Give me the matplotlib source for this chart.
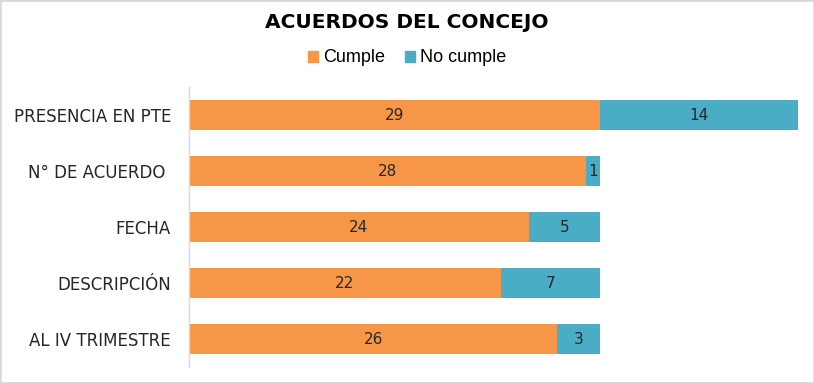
import matplotlib
matplotlib.use("Agg")
import matplotlib.pyplot as plt
from matplotlib.patches import Rectangle, Patch

categories = ["PRESENCIA EN PTE", "N° DE ACUERDO ", "FECHA", "DESCRIPCIÓN", "AL IV TRIMESTRE"]
cumple = [29, 28, 24, 22, 26]
no_cumple = [14, 1, 5, 7, 3]

COLOR_CUMPLE = "#F79646"
COLOR_NO = "#4BACC6"

W, H, DPI = 814, 383, 100
fig = plt.figure(figsize=(W / DPI, H / DPI), dpi=DPI)
fig.patch.set_facecolor("white")

ax = fig.add_axes([189 / W, (H - 367) / H, 609 / W, 280 / H])
ypos = list(range(len(categories)))

b1 = ax.barh(ypos, cumple, height=0.52, color=COLOR_CUMPLE)
b2 = ax.barh(ypos, no_cumple, left=cumple, height=0.52, color=COLOR_NO)

for bars in (b1, b2):
    ax.bar_label(bars, label_type="center", fontsize=11, color="#262626")

ax.set_xlim(0, 43)
ax.set_ylim(len(categories) - 0.5, -0.5)
ax.set_yticks(ypos)
ax.set_yticklabels(categories, fontsize=12, color="#262626")
ax.tick_params(axis="y", length=0, pad=13)
ax.set_xticks([])
for side in ("top", "right", "bottom"):
    ax.spines[side].set_visible(False)
ax.spines["left"].set_color("#D9D9D9")
ax.spines["left"].set_linewidth(1)

fig.text(0.5, 1 - 22 / H, "ACUERDOS DEL CONCEJO", ha="center", va="center",
         fontsize=14.5, fontweight="bold", color="#000000")

handles = [Patch(color=COLOR_CUMPLE, label="Cumple"),
           Patch(color=COLOR_NO, label="No cumple")]
fig.legend(handles=handles, loc="center", bbox_to_anchor=(0.5, 1 - 58 / H),
           ncol=2, frameon=False, prop={"family": "Liberation Sans", "size": 13},
           handlelength=0.55, handleheight=0.55, handletextpad=0.3,
           columnspacing=1.1)

fig.add_artist(Rectangle((0, 0), 1, 1, transform=fig.transFigure, fill=False,
                         edgecolor="#D9D9D9", linewidth=2))

fig.savefig("out.png", dpi=DPI, facecolor="white")
